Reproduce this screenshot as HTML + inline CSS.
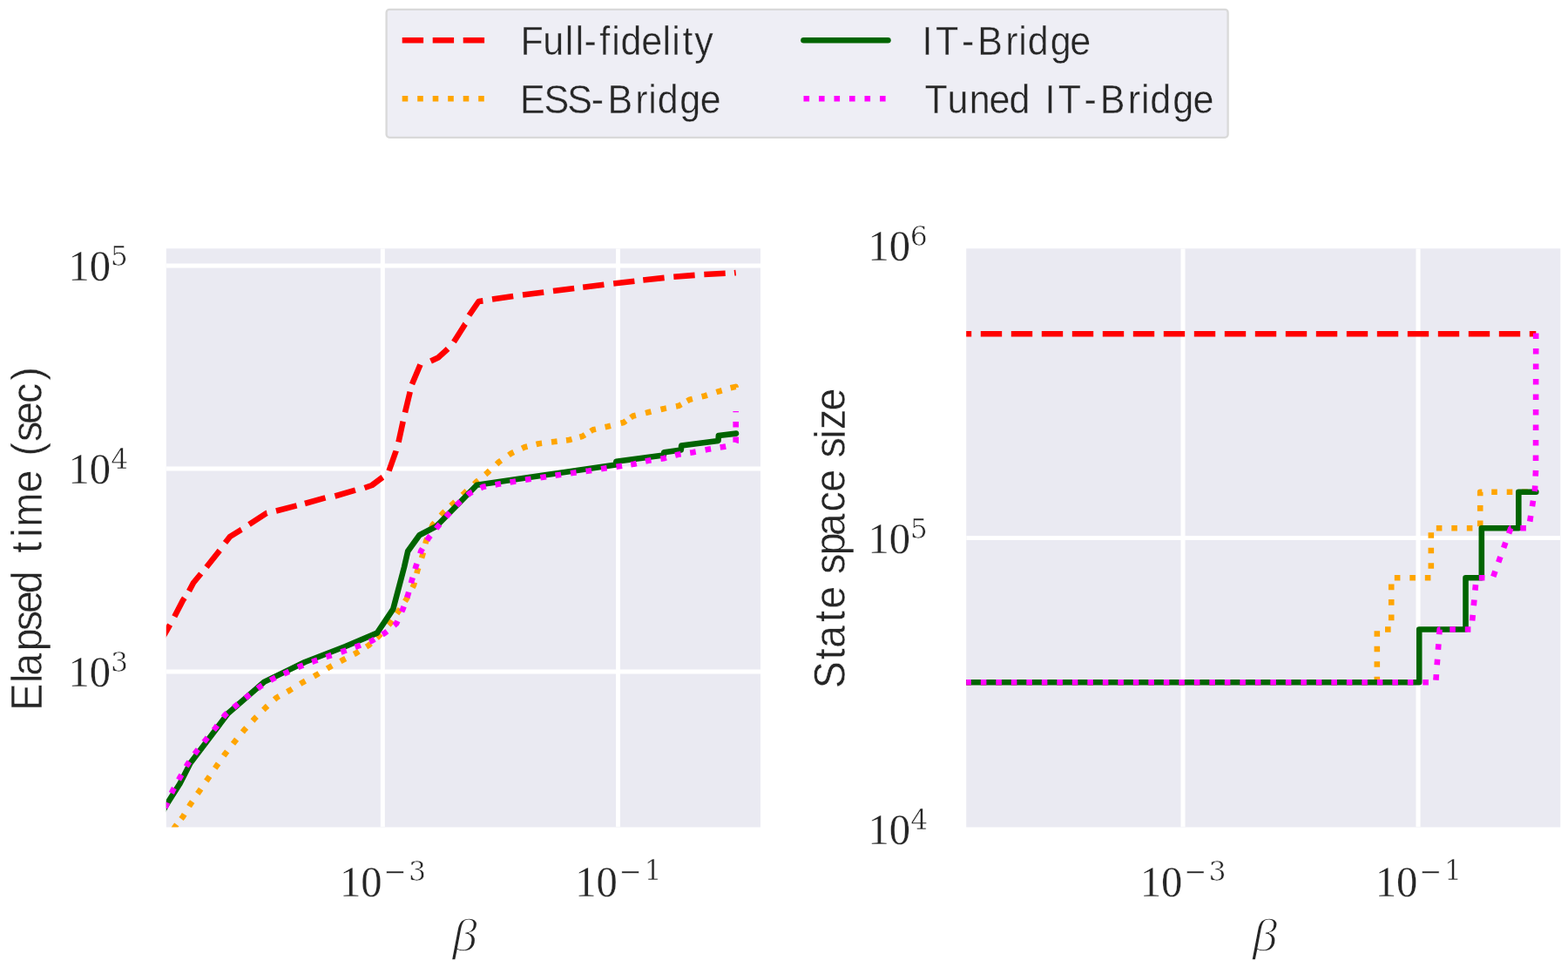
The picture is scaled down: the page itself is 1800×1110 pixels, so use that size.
<!DOCTYPE html>
<html lang="en"><head><meta charset="utf-8"><title>Elapsed time and state space size vs beta</title>
<style>html,body{margin:0;padding:0;background:#fff;}body{width:1800px;height:1110px;overflow:hidden;}svg{display:block;}</style></head><body>
<svg width="1800" height="1110" viewBox="0 0 1800 1110">
<rect width="1800" height="1110" fill="#fff"/>
<rect x="443.6" y="10.9" width="966.0" height="146.9" rx="3.5" fill="#eeeef5" stroke="#d9d9d9" stroke-width="2.3"/>
<line x1="461.7" y1="46.2" x2="556.7" y2="46.2" stroke="#ff0000" stroke-width="6.60" stroke-dasharray="24.40 10.60"/>
<line x1="461.7" y1="113.3" x2="556.7" y2="113.3" stroke="#ffa500" stroke-width="6.60" stroke-dasharray="6.60 10.90"/>
<line x1="922.5" y1="46.2" x2="1019.4" y2="46.2" stroke="#006400" stroke-width="6.60" stroke-linecap="round"/>
<line x1="922.5" y1="113.3" x2="1019.4" y2="113.3" stroke="#ff00ff" stroke-width="6.60" stroke-dasharray="6.60 10.90"/>
<clipPath id="c1"><rect x="190.8" y="285.3" width="682.2" height="664.2"/></clipPath>
<rect x="190.8" y="285.3" width="682.2" height="664.2" fill="#eaeaf2"/>
<g clip-path="url(#c1)">
<line x1="439.3" y1="285.3" x2="439.3" y2="949.5" stroke="#fff" stroke-width="5.00"/>
<line x1="709.5" y1="285.3" x2="709.5" y2="949.5" stroke="#fff" stroke-width="5.00"/>
<line x1="190.8" y1="305.0" x2="873.0" y2="305.0" stroke="#fff" stroke-width="5.00"/>
<line x1="190.8" y1="538.0" x2="873.0" y2="538.0" stroke="#fff" stroke-width="5.00"/>
<line x1="190.8" y1="771.1" x2="873.0" y2="771.1" stroke="#fff" stroke-width="5.00"/>
<path d="M182.9 738.2 L183.0 738.0 L190.8 724.8 L195.1 717.1 M200.3 707.8 L210.0 689.0 L211.8 686.3 M217.0 678.5 L222.0 669.0 L230.7 658.5 M237.0 651.0 L252.2 631.9 M258.5 623.0 L264.0 616.0 L277.0 608.0 L277.2 607.9 M286.0 602.0 L306.0 589.0 L306.5 588.9 M317.0 586.5 L340.6 580.4 M350.0 578.0 L373.5 571.3 M384.5 569.5 L407.9 562.7 M418.5 560.0 L427.0 557.0 L439.0 548.0 L439.3 547.8 M446.5 540.5 L454.5 518.0 L454.6 517.5 M457.5 507.5 L462.5 484.5 L462.7 483.7 M465.0 473.5 L470.3 451.5 L470.7 449.8 M473.0 441.0 L482.5 418.5 M494.5 414.5 L503.0 410.5 L514.0 400.5 L514.1 400.4 M521.0 392.5 L534.0 372.0 L534.1 371.9 M538.5 362.0 L549.5 346.0 L554.4 345.4 M565.0 343.5 L589.2 340.0 M600.0 338.5 L624.2 335.4 M635.0 334.0 L659.2 331.0 M669.2 329.7 L693.4 326.8 M704.2 325.5 L728.4 322.7 M738.3 321.5 L762.6 318.9 M773.3 317.8 L797.6 315.9 M808.3 315.0 L832.7 313.8 M843.0 313.3 L844.7 313.1" fill="none" stroke="#ff0000" stroke-width="6.60" stroke-linecap="butt" stroke-linejoin="round"/>
<path d="M199.2 952.1 L200.8 949.2 L202.8 946.6 M208.0 940.1 L210.0 937.5 L211.7 934.7 M217.1 925.6 L218.8 922.8 L220.7 920.1 M226.8 911.0 L228.7 908.3 L230.6 905.6 M236.8 896.5 L238.7 893.8 L240.6 891.1 M246.8 881.9 L248.7 879.2 L250.6 876.5 M256.8 867.7 L258.7 865.0 L260.7 862.4 M267.5 853.8 L269.5 851.2 L271.6 848.6 M278.4 840.4 L280.5 837.8 L282.7 835.4 M290.0 827.4 L292.2 825.0 L294.5 822.7 M302.4 814.8 L304.7 812.5 L307.1 810.3 M315.1 803.0 L317.5 800.8 L320.4 799.2 M329.6 794.1 L332.5 792.5 L335.3 790.8 M344.7 785.0 L347.5 783.3 L350.4 781.7 M360.4 776.3 L363.3 774.7 L366.1 773.0 M375.5 767.5 L378.3 765.8 L381.2 764.2 M390.9 759.1 L393.8 757.5 L396.7 756.0 M406.3 751.0 L409.2 749.5 L412.0 747.8 M420.5 742.5 L423.3 740.8 L425.7 738.6 M432.6 732.2 L435.0 730.0 L437.2 727.5 M446.1 717.5 L448.3 715.0 L450.2 712.3 M455.6 704.4 L457.5 701.7 L459.3 698.9 M464.9 690.3 L466.7 687.5 L468.2 684.6 M473.5 674.6 L475.0 671.7 L475.8 668.5 M478.4 658.2 L479.2 655.0 L480.2 651.9 M484.0 640.6 L485.0 637.5 L485.8 634.3 M488.4 624.0 L489.2 620.8 L490.5 617.7 M495.4 605.6 L496.7 602.5 L498.9 600.0 M506.1 591.7 L508.3 589.2 L510.7 587.0 M517.6 580.5 L520.0 578.3 L522.4 576.0 M530.9 568.1 L533.3 565.8 L535.7 563.5 M544.3 555.6 L546.7 553.3 L549.2 551.2 M557.2 544.6 L559.7 542.5 L562.1 540.2 M570.1 532.8 L572.5 530.5 L575.2 528.6 M584.0 522.4 L586.7 520.5 L589.7 519.1 M599.2 514.7 L602.2 513.3 L605.4 512.5 M615.6 510.0 L618.8 509.2 L622.1 508.8 M633.0 507.4 L636.3 507.0 L639.6 506.6 M650.0 505.4 L653.3 505.0 L656.5 504.1 M665.5 501.7 L668.7 500.8 L671.5 499.1 M678.0 495.0 L680.8 493.3 L684.0 492.6 M694.6 490.2 L697.8 489.5 L701.0 488.7 M712.6 485.8 L715.8 485.0 L718.5 483.1 M724.0 479.4 L726.7 477.5 L729.9 476.7 M741.0 474.1 L744.2 473.3 L747.4 472.5 M758.5 470.0 L761.7 469.2 L764.9 468.6 M776.0 466.4 L779.2 465.8 L782.1 464.2 M788.8 460.3 L791.7 458.7 L794.9 457.9 M805.6 455.3 L808.8 454.5 L811.9 453.5 M822.4 450.2 L825.5 449.2 L828.7 448.3 M838.6 445.3 L844.6 443.9 L844.7 445.0" fill="none" stroke="#ffa500" stroke-width="6.60" stroke-linecap="butt" stroke-linejoin="round"/>
<polyline points="169.0,966.0 190.8,924.2 206.5,899.4 218.5,876.0 261.6,819.1 303.0,782.9 350.0,760.0 396.5,742.0 432.9,726.6 451.3,699.1 464.0,651.0 468.2,632.7 481.5,614.3 500.7,604.3 547.4,556.8 620.7,546.0 707.0,533.4 707.3,529.8 761.8,522.6 762.2,519.2 781.8,516.6 782.2,511.4 824.5,506.0 824.9,500.0 845.0,497.6" fill="none" stroke="#006400" stroke-width="6.60" stroke-linecap="round" stroke-linejoin="round"/>
<path d="M189.5 927.2 L190.8 924.2 L192.2 921.2 M196.9 910.5 L198.3 907.5 L199.9 904.6 M205.1 895.1 L206.7 892.2 L208.4 889.3 M213.8 879.9 L215.5 877.0 L217.4 874.3 M223.4 865.5 L225.3 862.8 L227.4 860.2 M234.1 851.8 L236.2 849.2 L238.3 846.7 M245.4 838.0 L247.5 835.5 L249.5 832.8 M256.3 823.5 L258.3 820.8 L260.8 818.6 M268.3 812.2 L270.8 810.0 L273.4 807.9 M281.6 801.3 L284.2 799.2 L286.8 797.2 M295.7 790.3 L298.3 788.3 L301.1 786.6 M310.5 780.9 L313.3 779.2 L316.3 777.8 M325.8 773.6 L328.8 772.2 L331.8 770.8 M342.0 766.1 L345.0 764.7 L348.1 763.6 M358.2 759.8 L361.3 758.7 L364.4 757.6 M374.4 754.1 L377.5 753.0 L380.6 752.0 M391.4 748.5 L394.5 747.5 L397.6 746.4 M407.7 742.8 L410.8 741.7 L413.9 740.5 M424.1 736.7 L427.2 735.5 L430.0 733.8 M438.9 728.4 L441.7 726.7 L444.3 724.6 M452.4 717.9 L455.0 715.8 L456.4 712.8 M461.1 702.2 L462.5 699.2 L463.6 696.1 M467.2 685.9 L468.3 682.8 L469.2 679.6 M471.9 669.4 L472.8 666.2 L473.7 663.0 M476.6 653.2 L477.5 650.0 L478.5 646.9 M482.3 635.6 L483.3 632.5 L485.0 629.6 M490.3 620.4 L492.0 617.5 L494.1 614.9 M500.7 606.8 L502.8 604.2 L504.9 601.7 M512.1 593.3 L514.2 590.8 L516.4 588.4 M524.0 580.2 L526.2 577.8 L528.7 575.6 M536.7 568.4 L539.2 566.2 L542.2 564.8 M551.7 560.2 L554.7 558.8 L557.9 558.2 M568.5 556.4 L571.7 555.8 L575.0 555.3 M585.5 553.5 L588.8 553.0 L592.1 552.5 M603.0 550.8 L606.3 550.3 L609.6 549.8 M620.4 548.3 L623.7 547.8 L627.0 547.3 M637.5 545.8 L640.8 545.3 L644.1 544.8 M655.0 543.3 L658.3 542.8 L661.6 542.4 M672.5 540.9 L675.8 540.5 L679.1 540.0 M690.0 538.3 L693.3 537.8 L696.6 537.3 M707.5 535.8 L710.8 535.3 L714.1 534.8 M724.2 533.3 L727.5 532.8 L730.7 532.0 M741.0 529.5 L744.2 528.7 L747.5 528.2 M758.4 526.7 L761.7 526.2 L764.9 525.3 M775.1 522.6 L778.3 521.7 L781.6 521.2 M792.2 519.7 L795.5 519.2 L798.7 518.6 M809.6 516.4 L812.8 515.8 L816.1 515.3 M826.7 513.5 L830.0 513.0 L833.2 512.4 M844.6 508.1 L844.7 507.8 L844.7 501.5 M844.7 490.6 L844.7 484.0 M844.7 473.2 L844.7 472.0" fill="none" stroke="#ff00ff" stroke-width="6.60" stroke-linecap="butt" stroke-linejoin="round"/>
</g>
<clipPath id="c2"><rect x="1109.2" y="285.3" width="682.1" height="664.2"/></clipPath>
<rect x="1109.2" y="285.3" width="682.1" height="664.2" fill="#eaeaf2"/>
<g clip-path="url(#c2)">
<line x1="1358.0" y1="285.3" x2="1358.0" y2="949.5" stroke="#fff" stroke-width="5.00"/>
<line x1="1628.0" y1="285.3" x2="1628.0" y2="949.5" stroke="#fff" stroke-width="5.00"/>
<line x1="1109.2" y1="617.5" x2="1791.3" y2="617.5" stroke="#fff" stroke-width="5.00"/>
<polyline points="1090.8,383.2 1763.3,383.2" fill="none" stroke="#ff0000" stroke-width="6.60" stroke-linecap="butt" stroke-linejoin="round" stroke-dasharray="24.40 10.60" stroke-dashoffset="0.00"/>
<polyline points="1090.8,783.3 1580.8,783.3 1580.8,722.5 1597.2,722.5 1597.2,663.3 1642.8,663.3 1642.8,606.3 1699.2,606.3 1699.2,564.7 1763.3,564.7" fill="none" stroke="#ffa500" stroke-width="6.60" stroke-linecap="butt" stroke-linejoin="round" stroke-dasharray="6.60 10.90" stroke-dashoffset="0.00"/>
<polyline points="1090.8,783.3 1629.2,783.3 1629.2,722.5 1682.5,722.5 1682.5,663.3 1700.8,663.3 1700.8,606.3 1743.3,606.3 1743.3,564.7 1763.3,564.7" fill="none" stroke="#006400" stroke-width="6.60" stroke-linecap="round" stroke-linejoin="round"/>
<polyline points="1090.8,783.3 1648.2,783.3 1652.6,722.5 1689.2,722.5 1694.7,663.3 1713.7,663.3 1734.3,606.3 1755.0,606.3 1762.0,562.0 1763.0,540.0 1763.2,382.4" fill="none" stroke="#ff00ff" stroke-width="6.60" stroke-linecap="butt" stroke-linejoin="round" stroke-dasharray="6.60 10.90" stroke-dashoffset="0.00"/>
</g>
<text transform="scale(0.9300,1)" x="642.48 670.16 697.59 710.28 720.90 740.16 755.23 766.16 791.61 817.81 829.20 842.38 857.35" y="63.20" font-family="'Liberation Sans', 'DejaVu Sans', sans-serif" font-size="46.30" fill="#262626" stroke="#eeeef5" stroke-width="0.45">Full-fidelity</text>
<text transform="scale(0.9300,1)" x="641.85 671.43 700.36 729.88 749.98 784.10 800.28 811.54 839.07 864.14" y="130.20" font-family="'Liberation Sans', 'DejaVu Sans', sans-serif" font-size="46.30" fill="#262626" stroke="#eeeef5" stroke-width="0.45">ESS-Bridge</text>
<text transform="scale(0.9300,1)" x="1138.09 1154.91 1187.20 1206.65 1241.09 1257.27 1268.58 1296.38 1320.81" y="63.20" font-family="'Liberation Sans', 'DejaVu Sans', sans-serif" font-size="46.30" fill="#262626" stroke="#eeeef5" stroke-width="0.45">IT-Bridge</text>
<text transform="scale(0.9300,1)" x="1141.47 1169.25 1196.39 1221.02 1245.68 1271.43 1289.92 1306.09 1338.22 1357.83 1392.32 1408.51 1419.71 1447.67 1472.69" y="130.20" font-family="'Liberation Sans', 'DejaVu Sans', sans-serif" font-size="46.30" fill="#262626" stroke="#eeeef5" stroke-width="0.45">Tuned IT-Bridge</text>
<text transform="translate(48.10,0) rotate(-90) scale(0.9300,1)" x="-877.25 -842.94 -834.23 -803.57 -778.80 -756.87 -732.50 -704.61 -682.41 -662.84 -649.97 -608.00 -580.11 -562.78 -545.30 -523.65 -497.75 -469.70" y="0.00" font-family="'Liberation Sans', 'DejaVu Sans', sans-serif" font-size="50.14" fill="#262626" stroke="#fff" stroke-width="0.45">Elapsed time (sec)</text>
<text transform="translate(970.00,0) rotate(-90) scale(0.9300,1)" x="-849.68 -814.13 -799.93 -767.68 -751.44 -723.55 -708.58 -685.29 -661.49 -631.84 -607.30 -579.41 -565.09 -541.49 -530.08 -506.87" y="0.00" font-family="'Liberation Sans', 'DejaVu Sans', sans-serif" font-size="50.14" fill="#262626" stroke="#fff" stroke-width="0.45">State space size</text>
<text font-family="'Liberation Serif', 'DejaVu Serif', serif" fill="#262626" stroke="#fff" stroke-width="0.30"><tspan x="78.52" y="322.10" font-size="49.60" textLength="48.62" lengthAdjust="spacingAndGlyphs">10</tspan><tspan x="126.86" y="305.30" font-family="'DejaVu Serif', 'Liberation Serif', serif" font-size="31.60" stroke-width="0.55">5</tspan></text>
<text font-family="'Liberation Serif', 'DejaVu Serif', serif" fill="#262626" stroke="#fff" stroke-width="0.30"><tspan x="78.52" y="555.10" font-size="49.60" textLength="48.62" lengthAdjust="spacingAndGlyphs">10</tspan><tspan x="127.33" y="538.30" font-family="'DejaVu Serif', 'Liberation Serif', serif" font-size="31.60" stroke-width="0.55">4</tspan></text>
<text font-family="'Liberation Serif', 'DejaVu Serif', serif" fill="#262626" stroke="#fff" stroke-width="0.30"><tspan x="78.52" y="788.10" font-size="49.60" textLength="48.62" lengthAdjust="spacingAndGlyphs">10</tspan><tspan x="126.98" y="771.30" font-family="'DejaVu Serif', 'Liberation Serif', serif" font-size="31.60" stroke-width="0.55">3</tspan></text>
<text font-family="'Liberation Serif', 'DejaVu Serif', serif" fill="#262626" stroke="#fff" stroke-width="0.30"><tspan x="996.42" y="299.20" font-size="49.60" textLength="48.62" lengthAdjust="spacingAndGlyphs">10</tspan><tspan x="1044.84" y="282.40" font-family="'DejaVu Serif', 'Liberation Serif', serif" font-size="31.60" stroke-width="0.55">6</tspan></text>
<text font-family="'Liberation Serif', 'DejaVu Serif', serif" fill="#262626" stroke="#fff" stroke-width="0.30"><tspan x="996.42" y="634.60" font-size="49.60" textLength="48.62" lengthAdjust="spacingAndGlyphs">10</tspan><tspan x="1044.76" y="617.80" font-family="'DejaVu Serif', 'Liberation Serif', serif" font-size="31.60" stroke-width="0.55">5</tspan></text>
<text font-family="'Liberation Serif', 'DejaVu Serif', serif" fill="#262626" stroke="#fff" stroke-width="0.30"><tspan x="996.42" y="969.20" font-size="49.60" textLength="48.62" lengthAdjust="spacingAndGlyphs">10</tspan><tspan x="1045.23" y="952.40" font-family="'DejaVu Serif', 'Liberation Serif', serif" font-size="31.60" stroke-width="0.55">4</tspan></text>
<text font-family="'Liberation Serif', 'DejaVu Serif', serif" fill="#262626" stroke="#fff" stroke-width="0.30"><tspan x="390.02" y="1028.80" font-size="49.60" textLength="48.62" lengthAdjust="spacingAndGlyphs">10</tspan><tspan x="440.32 468.88" y="1011.12 1011.00" font-family="'DejaVu Serif', 'Liberation Serif', serif" font-size="31.60" stroke-width="0.55">−3</tspan></text>
<text font-family="'Liberation Serif', 'DejaVu Serif', serif" fill="#262626" stroke="#fff" stroke-width="0.30"><tspan x="660.22" y="1028.80" font-size="49.60" textLength="48.62" lengthAdjust="spacingAndGlyphs">10</tspan><tspan x="710.52 739.39" y="1011.12 1010.20" font-family="'DejaVu Serif', 'Liberation Serif', serif" font-size="31.60" stroke-width="0.55">−1</tspan></text>
<text font-family="'Liberation Serif', 'DejaVu Serif', serif" fill="#262626" stroke="#fff" stroke-width="0.30"><tspan x="1308.72" y="1028.80" font-size="49.60" textLength="48.62" lengthAdjust="spacingAndGlyphs">10</tspan><tspan x="1359.02 1387.58" y="1011.12 1011.00" font-family="'DejaVu Serif', 'Liberation Serif', serif" font-size="31.60" stroke-width="0.55">−3</tspan></text>
<text font-family="'Liberation Serif', 'DejaVu Serif', serif" fill="#262626" stroke="#fff" stroke-width="0.30"><tspan x="1578.72" y="1028.80" font-size="49.60" textLength="48.62" lengthAdjust="spacingAndGlyphs">10</tspan><tspan x="1629.02 1657.89" y="1011.12 1010.20" font-family="'DejaVu Serif', 'Liberation Serif', serif" font-size="31.60" stroke-width="0.55">−1</tspan></text>
<text x="519.16" y="1091.00" font-family="'Liberation Serif', 'DejaVu Serif', serif" font-style="italic" font-size="53.00" fill="#262626" stroke="#fff" stroke-width="1.30" textLength="28.52" lengthAdjust="spacingAndGlyphs">β</text>
<text x="1437.66" y="1091.00" font-family="'Liberation Serif', 'DejaVu Serif', serif" font-style="italic" font-size="53.00" fill="#262626" stroke="#fff" stroke-width="1.30" textLength="28.52" lengthAdjust="spacingAndGlyphs">β</text>
</svg></body></html>
